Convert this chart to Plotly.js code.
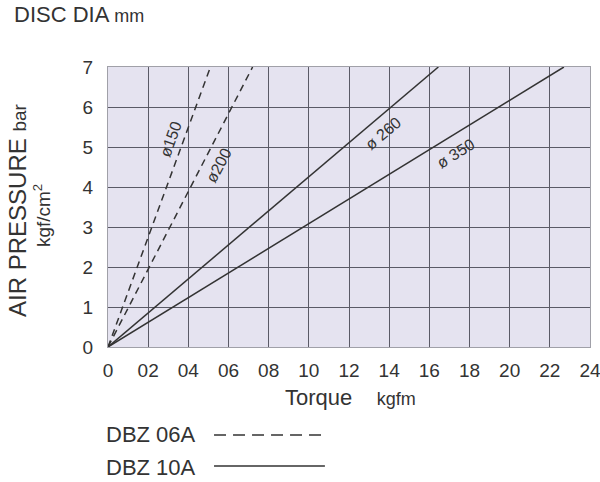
<!DOCTYPE html>
<html>
<head>
<meta charset="utf-8">
<script src="https://cdn.plot.ly/plotly-3.0.1.min.js"></script>
<style>html,body{margin:0;padding:0;background:#fff;}#chart{width:600px;height:482px;}</style>
</head>
<body>
<div id="chart"></div>
<script>
// Air pressure (bar) vs torque (kgfm) for each disc diameter
const pressure = [0, 7];
const torque150 = [0, 5.1];
const torque200 = [0, 7.2];
const torque260 = [0, 16.45];
const torque350 = [0, 22.7];

const xTickVals = [0, 2, 4, 6, 8, 10, 12, 14, 16, 18, 20, 22, 24];
const xTickText = ["0", "02", "04", "06", "08", "10", "12", "14", "16", "18", "20", "22", "24"];
const yTickVals = [0, 1, 2, 3, 4, 5, 6, 7];

const curveLabels = ["ø150", "ø200", "ø 260", "ø 350"];
const labelX = [3.1, 5.5, 13.7, 17.3];
const labelY = [5.2, 4.55, 5.33, 4.85];
const labelAngle = [-70, -62, -40, -32];

const legendNames = ["DBZ 06A", "DBZ 10A"];

const lineColor = "#333333";
const FONT = "Liberation Sans, Arial, sans-serif";

function tr(x, dash) {
  return {x: x, y: pressure, mode: "lines", type: "scatter",
    line: {color: lineColor, width: 1.5, dash: dash}, hoverinfo: "skip", showlegend: false};
}

const data = [
  tr(torque150, "7px,5px"),
  tr(torque200, "7px,5px"),
  tr(torque260, "solid"),
  tr(torque350, "solid")
];

const annotations = curveLabels.map((t, i) => ({
  x: labelX[i], y: labelY[i], xref: "x", yref: "y", text: t, showarrow: false,
  textangle: labelAngle[i], font: {family: FONT, size: 16, color: "#333"}
}));

annotations.push(
  {xref: "paper", yref: "paper", x: -0.199, y: 1.186, xanchor: "left", yanchor: "middle",
   text: "DISC DIA <span style='font-size:18px'>mm</span>", showarrow: false,
   font: {family: FONT, size: 22, color: "#333"}},
  {xref: "paper", yref: "paper", x: -0.189, y: 0.489, xanchor: "center", yanchor: "middle",
   text: "AIR PRESSURE <span style='font-size:19px'>bar</span>", textangle: -90, showarrow: false,
   font: {family: FONT, size: 24, color: "#333"}},
  {xref: "paper", yref: "paper", x: -0.137, y: 0.471, xanchor: "center", yanchor: "middle",
   text: "kgf/cm<sup>2</sup>", textangle: -90, showarrow: false,
   font: {family: FONT, size: 19, color: "#333"}},
  {xref: "paper", yref: "paper", x: 0.503, y: -0.182, xanchor: "center", yanchor: "middle",
   text: "Torque&nbsp;&nbsp;&nbsp; <span style='font-size:18px'>kgfm</span>", showarrow: false,
   font: {family: FONT, size: 22, color: "#333"}},
  {xref: "paper", yref: "paper", x: -0.008, y: -0.314, xanchor: "left", yanchor: "middle",
   text: legendNames[0], showarrow: false, font: {family: FONT, size: 22, color: "#333"}},
  {xref: "paper", yref: "paper", x: -0.008, y: -0.429, xanchor: "left", yanchor: "middle",
   text: legendNames[1], showarrow: false, font: {family: FONT, size: 22, color: "#333"}}
);

const shapes = [
  {type: "line", xref: "paper", yref: "paper", x0: 0.22, x1: 0.446, y0: -0.314, y1: -0.314,
   line: {color: lineColor, width: 1.5, dash: "12px,7px"}},
  {type: "line", xref: "paper", yref: "paper", x0: 0.22, x1: 0.45, y0: -0.425, y1: -0.425,
   line: {color: lineColor, width: 1.5}}
];

const layout = {
  width: 600, height: 482,
  margin: {l: 108, r: 10, t: 67, b: 135},
  paper_bgcolor: "#ffffff",
  plot_bgcolor: "#e5e3f0",
  showlegend: false,
  font: {family: FONT, color: "#333"},
  xaxis: {range: [0, 24], tickvals: xTickVals, ticktext: xTickText, showgrid: true,
    gridcolor: "#5a5a66", gridwidth: 1, zeroline: false, showline: true, mirror: true,
    linecolor: "#a0a0a8", linewidth: 1, ticks: "", ticklabelstandoff: 6,
    ticklabeloverflow: "allow",
    tickfont: {size: 19, color: "#333"}, fixedrange: true},
  yaxis: {range: [0, 7], tickvals: yTickVals, showgrid: true,
    gridcolor: "#5a5a66", gridwidth: 1, zeroline: false, showline: true, mirror: true,
    linecolor: "#a0a0a8", linewidth: 1, ticks: "", ticklabelstandoff: 10,
    tickfont: {size: 19, color: "#333"}, fixedrange: true},
  annotations: annotations,
  shapes: shapes
};

Plotly.newPlot("chart", data, layout, {displayModeBar: false, staticPlot: true});
</script>
</body>
</html>
